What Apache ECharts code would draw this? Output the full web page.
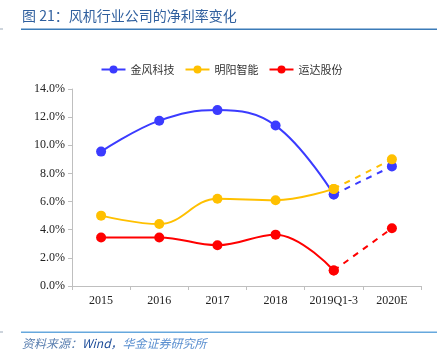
<!DOCTYPE html>
<html><head><meta charset="utf-8">
<script src="https://cdn.jsdelivr.net/npm/echarts@6/dist/echarts.min.js"></script>
<style>html,body{margin:0;padding:0;background:#fff}#c{width:443px;height:357px}</style>
</head><body><div id="c"></div>
<script>
const categories = ['2015','2016','2017','2018','2019Q1-3','2020E'];
const seriesNames = ['金风科技','明阳智能','运达股份'];
const goldwind = [9.55, 11.75, 12.5, 11.4, 6.5, 8.5];
const mingyang = [5.0, 4.4, 6.2, 6.1, 6.9, 9.0];
const yunda = [3.45, 3.45, 2.9, 3.65, 1.1, 4.1];
const yTicks = [0, 2, 4, 6, 8, 10, 12, 14];
const colors = ['#3b3bff', '#ffc000', '#ff0000'];
const actualCount = 5; // first 5 are actual, last is estimate

const values = [goldwind, mingyang, yunda];
const series = [];
values.forEach((vals, i) => {
  series.push({
    name: seriesNames[i], type: 'line', smooth: 0.4,
    data: vals.map((v, k) => k < actualCount ? v : '-'),
    symbol: 'circle', symbolSize: 10,
    lineStyle: { color: colors[i], width: 2 },
    itemStyle: { color: colors[i] },
    z: 2 + i
  });
  series.push({
    name: seriesNames[i] + '_e', type: 'line',
    data: vals.map((v, k) => k >= actualCount - 1 ? v : '-'),
    symbol: 'circle', symbolSize: 10,
    lineStyle: { color: colors[i], width: 2, type: [6, 6] },
    itemStyle: { color: colors[i] },
    z: 2 + i
  });
});

const chart = echarts.init(document.getElementById('c'));
chart.setOption({
  animation: false,
  graphic: [
    { type: 'text', left: 22, top: 9, style: { text: '图 21：风机行业公司的净利率变化', fill: '#2f5f9e', font: '14px "Noto Sans CJK SC", sans-serif' } },
    { type: 'rect', shape: { x: 21, y: 28.5, width: 416, height: 1.5 }, style: { fill: '#3b7bb8' } },
    { type: 'rect', shape: { x: 0, y: 28.5, width: 3, height: 1 }, style: { fill: '#9aa8b8' } },
    { type: 'rect', shape: { x: 21, y: 331.5, width: 416, height: 1.5 }, style: { fill: '#66a8dd' } },
    { type: 'rect', shape: { x: 0, y: 331.5, width: 3, height: 1 }, style: { fill: '#9aa8b8' } },
    { type: 'text', left: 22, top: 337, style: {
      text: '{a|资料来源：}{b|Wind，}{c|华金证券研究所}',
      rich: {
        a: { fill: '#5a7fb0', font: 'italic 12px "Noto Sans CJK SC", sans-serif' },
        b: { fill: '#1f4e9a', font: 'italic 12px "Noto Sans CJK SC", sans-serif' },
        c: { fill: '#5a8fd0', font: 'italic 12px "Noto Sans CJK SC", sans-serif' }
      } } }
  ],
  legend: {
    data: seriesNames,
    top: 59, left: 'center', itemWidth: 24, itemHeight: 10, itemGap: 10,
    textStyle: { fontSize: 11, color: '#333', fontFamily: '"Noto Sans CJK SC", sans-serif' }
  },
  grid: { left: 72, right: 22, top: 89, bottom: 71, containLabel: false },
  xAxis: {
    type: 'category', data: categories, boundaryGap: true,
    axisLine: { lineStyle: { color: '#bfbfbf' } },
    axisTick: { show: true, length: 4, interval: 0, lineStyle: { color: '#bfbfbf' } },
    axisLabel: { color: '#222', fontSize: 12, fontFamily: '"Liberation Serif", serif', margin: 9, interval: 0, hideOverlap: false }
  },
  yAxis: {
    type: 'value', min: 0, max: 14, interval: 2,
    axisLine: { show: true, lineStyle: { color: '#bfbfbf' } },
    axisTick: { show: true, length: 4, lineStyle: { color: '#bfbfbf' } },
    splitLine: { show: false },
    axisLabel: { color: '#222', fontSize: 12, fontFamily: '"Liberation Serif", serif', margin: 7,
      formatter: v => yTicks.includes(v) ? v.toFixed(1) + '%' : '' }
  },
  series: series
});
</script></body></html>
